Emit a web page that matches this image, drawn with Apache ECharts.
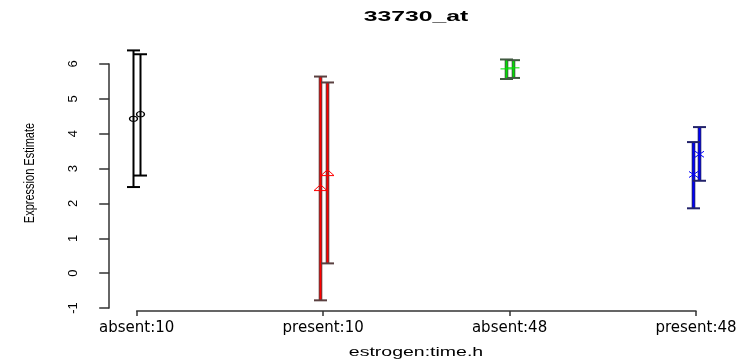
<!DOCTYPE html>
<html><head><meta charset="utf-8">
<script src="https://cdn.jsdelivr.net/npm/echarts@6/dist/echarts.min.js"></script>
<style>html,body{margin:0;padding:0;background:#fff}#c{width:742px;height:360px}</style>
</head><body><div id="c"></div>
<script>
// ---- data ----
const chartTitle = '33730_at';
const xTitle = 'estrogen:time.h';
const yTitle = 'Expression Estimate';
const categories = ['absent:10', 'present:10', 'absent:48', 'present:48'];
const yTickLabels = [-1, 0, 1, 2, 3, 4, 5, 6];
// replicate 1 (left bar of each pair)
const rep1Mean  = [4.43, 2.44, 5.86, 2.83];
const rep1Lower = [2.47, -0.78, 5.57, 1.86];
const rep1Upper = [6.39, 5.64, 6.13, 3.76];
// replicate 2 (right bar of each pair)
const rep2Mean  = [4.56, 2.87, 5.89, 3.41];
const rep2Lower = [2.80, 0.28, 5.60, 2.65];
const rep2Upper = [6.28, 5.47, 6.11, 4.19];

// ---- styles ----
const markColor = ['#000000', '#ff0000', '#00e000', '#0000ff'];
const outlineColor = ['#000000', '#5a4040', '#405a40', '#22226a'];
const repShiftPx = [-3.4, 3.4];
const capHalf = 6.5;

function buildData(mean, lo, hi, rep) {
  return categories.map((c, i) => [i + 1, mean[i], lo[i], hi[i], i, rep]);
}
const data = buildData(rep1Mean, rep1Lower, rep1Upper, 0).concat(buildData(rep2Mean, rep2Lower, rep2Upper, 1));

function marker(cat, px, py) {
  const col = markColor[cat];
  const st = { stroke: col, fill: 'none', lineWidth: 1 };
  if (cat === 0) {
    return { type: 'circle', z2: 40, x: px, y: py, scaleX: 1.5, shape: { cx: 0, cy: 0, r: 2.6 }, style: st };
  } else if (cat === 1) {
    return { type: 'polygon', z2: 40, shape: { points: [[px - 6.5, py + 2.5], [px + 6.5, py + 2.5], [px, py - 3.5]] }, style: st };
  } else if (cat === 2) {
    return { type: 'group', children: [
      { type: 'line', z2: 40, shape: { x1: px - 6, y1: py, x2: px + 6, y2: py }, style: st },
      { type: 'line', z2: 40, shape: { x1: px, y1: py - 3.5, x2: px, y2: py + 3.5 }, style: st }
    ]};
  } else {
    return { type: 'group', children: [
      { type: 'line', z2: 40, shape: { x1: px - 4.5, y1: py - 3, x2: px + 4.5, y2: py + 3 }, style: st },
      { type: 'line', z2: 40, shape: { x1: px - 4.5, y1: py + 3, x2: px + 4.5, y2: py - 3 }, style: st }
    ]};
  }
}

function renderItem(params, api) {
  const x = api.value(0), mean = api.value(1), lo = api.value(2), hi = api.value(3);
  const cat = api.value(4), rep = api.value(5);
  const top = api.coord([x, hi]), bot = api.coord([x, lo]), mid = api.coord([x, mean]);
  const px = Math.round(top[0] + repShiftPx[rep]) + 0.5;
  const dark = outlineColor[cat];
  const h = bot[1] - top[1];
  const children = [];
  if (cat === 0) {
    children.push({ type: 'rect', z2: 10, shape: { x: px - 1, y: top[1], width: 2, height: h }, style: { fill: '#000' } });
  } else {
    children.push({ type: 'rect', z2: 10, shape: { x: px - 1.8, y: top[1], width: 3.6, height: h }, style: { fill: dark } });
    children.push({ type: 'rect', z2: 20, shape: { x: px - 0.9, y: top[1], width: 1.8, height: h }, style: { fill: markColor[cat] } });
  }
  children.push({ type: 'line', z2: 30, shape: { x1: px - capHalf, y1: top[1], x2: px + capHalf, y2: top[1] }, style: { stroke: dark, lineWidth: 2 } });
  children.push({ type: 'line', z2: 30, shape: { x1: px - capHalf, y1: bot[1], x2: px + capHalf, y2: bot[1] }, style: { stroke: dark, lineWidth: 2 } });
  children.push(marker(cat, px, mid[1]));
  return { type: 'group', children: children };
}

const chart = echarts.init(document.getElementById('c'), null, { renderer: 'canvas' });
chart.setOption({
  animation: false,
  backgroundColor: '#ffffff',
  grid: { left: 136.7, right: 46, top: 64, bottom: 52, containLabel: false },
  xAxis: {
    type: 'value', min: 1, max: 4, interval: 1, offset: 3,
    axisLine: { show: true, onZero: false, lineStyle: { color: '#333', width: 1.5 } },
    axisTick: { show: true, length: 5, lineStyle: { color: '#333', width: 1.5 } },
    axisLabel: { margin: 10, color: '#000', fontFamily: 'DejaVu Sans', fontSize: 15,
      formatter: v => categories[Math.round(v) - 1] || '' },
    splitLine: { show: false }
  },
  yAxis: {
    type: 'value', min: yTickLabels[0], max: yTickLabels[yTickLabels.length - 1], interval: 1, offset: 27.5,
    axisLine: { show: true, onZero: false, lineStyle: { color: '#333', width: 1.5 } },
    axisTick: { show: true, length: 10, lineStyle: { color: '#333', width: 1.5 } },
    axisLabel: { rotate: 90, margin: 29, color: '#000', fontFamily: 'Liberation Sans', fontSize: 13 },
    splitLine: { show: false }
  },
  graphic: [
    { type: 'text', x: 416, y: 17, scaleX: 1.65, style: { text: chartTitle, font: 'bold 15px "Liberation Sans"', fill: '#000', align: 'center', verticalAlign: 'middle' } },
    { type: 'text', x: 416, y: 352, scaleX: 1.5, style: { text: xTitle, font: '13px "Liberation Sans"', fill: '#000', align: 'center', verticalAlign: 'middle' } },
    { type: 'text', x: 30, y: 173, rotation: Math.PI / 2, scaleY: 1.4, style: { text: yTitle, font: '11px "Liberation Sans"', fill: '#000', align: 'center', verticalAlign: 'middle' } }
  ],
  series: [{
    type: 'custom', renderItem: renderItem, clip: false,
    encode: { x: 0, y: 1 },
    data: data
  }]
});
</script>
</body></html>
